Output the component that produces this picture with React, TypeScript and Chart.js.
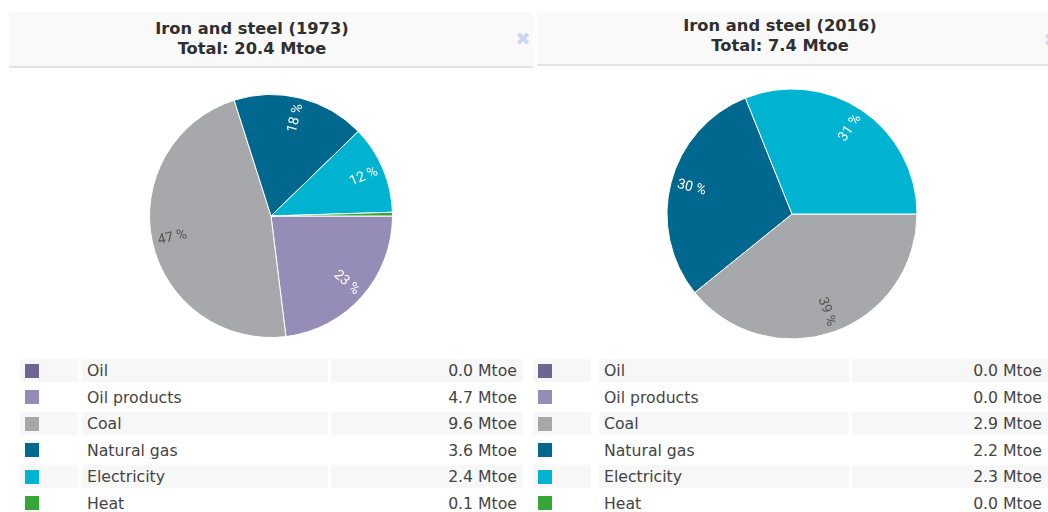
import React, { useEffect, useRef } from "react";
import { Chart, registerables } from "chart.js";

Chart.register(...registerables);

const categories = ["Oil", "Oil products", "Coal", "Natural gas", "Electricity", "Heat"];
const values1973 = [0.0, 4.7, 9.6, 3.6, 2.4, 0.1];
const values2016 = [0.0, 0.0, 2.9, 2.2, 2.3, 0.0];
const titles = ["Iron and steel (1973)", "Iron and steel (2016)"];
const totals = ["Total: 20.4 Mtoe", "Total: 7.4 Mtoe"];
const unit = "Mtoe";

const COLORS = ["#6e6593", "#958cb8", "#a7a8ab", "#00688f", "#00b4d1", "#35a637"];
const DARK_LABEL = "#555555";
const LIGHT_LABEL = "#ffffff";

function isLight(hex: string) {
  const r = parseInt(hex.slice(1, 3), 16);
  const g = parseInt(hex.slice(3, 5), 16);
  const b = parseInt(hex.slice(5, 7), 16);
  return 0.299 * r + 0.587 * g + 0.114 * b > 150;
}

const pctLabels = {
  id: "pctLabels",
  afterDatasetsDraw(chart: any) {
    const ctx = chart.ctx;
    const ds = chart.data.datasets[0];
    const data: number[] = ds.data;
    const total = data.reduce((a: number, b: number) => a + b, 0);
    const meta = chart.getDatasetMeta(0);
    ctx.save();
    ctx.font = "14px Roboto";
    ctx.textAlign = "center";
    ctx.textBaseline = "middle";
    meta.data.forEach((arc: any, i: number) => {
      const pct = Math.round((data[i] / total) * 100);
      if (pct < 1) return;
      const { x, y, startAngle, endAngle, outerRadius } = arc.getProps(
        ["x", "y", "startAngle", "endAngle", "outerRadius"],
        true
      );
      const mid = (startAngle + endAngle) / 2;
      const r = outerRadius * 0.83;
      const px = x + Math.cos(mid) * r;
      const py = y + Math.sin(mid) * r;
      let rot = mid;
      if (Math.cos(mid) < 0) rot += Math.PI;
      ctx.save();
      ctx.translate(px, py);
      ctx.rotate(rot);
      ctx.fillStyle = isLight(COLORS[i]) ? DARK_LABEL : LIGHT_LABEL;
      ctx.fillText(pct + " %", 0, 0);
      ctx.restore();
    });
    ctx.restore();
  },
};

type PieProps = { values: number[]; left: number; top: number; size: number; radius: number };

function Pie({ values, left, top, size, radius }: PieProps) {
  const ref = useRef<HTMLCanvasElement | null>(null);
  useEffect(() => {
    if (!ref.current) return;
    const chart = new Chart(ref.current, {
      type: "pie",
      data: {
        labels: categories,
        datasets: [
          {
            data: values,
            backgroundColor: COLORS,
            borderColor: "#ffffff",
            borderWidth: 1,
            radius: radius,
          },
        ],
      },
      options: {
        animation: false,
        responsive: false,
        rotation: 90,
        plugins: { legend: { display: false }, tooltip: { enabled: false }, title: { display: false } },
        layout: { padding: 0 },
      },
      plugins: [pctLabels],
    });
    return () => chart.destroy();
  }, []);
  return (
    <canvas
      ref={ref}
      width={size}
      height={size}
      style={{ position: "absolute", left, top, width: size, height: size }}
    />
  );
}

type PanelProps = {
  title: string;
  total: string;
  values: number[];
  headerLeft: number;
  headerTop: number;
  headerHeight: number;
  titleTop: number;
  pieCx: number;
  pieCy: number;
  pieR: number;
  tableLeft: number;
  cols: number[];
};

function Panel(p: PanelProps) {
  const size = 270;
  const rowTop = 359;
  const pitch = 26.5;
  const rowH = 23;
  const [swW, gap1, labW, gap2, valW] = p.cols;
  return (
    <>
      <div
        style={{
          position: "absolute",
          left: p.headerLeft,
          top: p.headerTop,
          width: 524,
          height: p.headerHeight,
          background: "#f9f9f9",
          borderBottom: "2px solid #e2e2e2",
        }}
      >
        <div
          style={{
            position: "absolute",
            left: 0,
            top: p.titleTop,
            width: 486,
            textAlign: "center",
            fontFamily: "'DejaVu Sans'",
            fontWeight: "bold",
            fontSize: 16.3,
            lineHeight: "20px",
            color: "#2f2f2f",
          }}
        >
          <div>{p.title}</div>
          <div>{p.total}</div>
        </div>
        <div
          style={{
            position: "absolute",
            left: 502,
            top: 16,
            width: 24,
            textAlign: "center",
            fontFamily: "'DejaVu Sans'",
            fontSize: 18,
            lineHeight: "22px",
            color: "#c9d7ee",
          }}
        >
          ✖
        </div>
      </div>
      <Pie
        values={p.values}
        left={p.pieCx - size / 2}
        top={p.pieCy - size / 2}
        size={size}
        radius={p.pieR}
      />
      {categories.map((c, i) => {
        const top = rowTop + i * pitch;
        const bg = i % 2 === 0 ? "#f7f7f7" : "#ffffff";
        const cell = {
          position: "absolute" as const,
          top,
          height: rowH,
          background: bg,
          fontFamily: "'DejaVu Sans'",
          fontSize: 15.7,
          lineHeight: rowH + "px",
          color: "#444444",
          whiteSpace: "nowrap" as const,
        };
        return (
          <React.Fragment key={c}>
            <div style={{ ...cell, left: p.tableLeft, width: swW }}>
              <div
                style={{
                  position: "absolute",
                  left: 5,
                  top: (rowH - 14) / 2,
                  width: 14,
                  height: 14,
                  background: COLORS[i],
                }}
              />
            </div>
            <div
              style={{
                ...cell,
                left: p.tableLeft + swW + gap1,
                width: labW - 5,
                paddingLeft: 5,
              }}
            >
              {c}
            </div>
            <div
              style={{
                ...cell,
                left: p.tableLeft + swW + gap1 + labW + gap2,
                width: valW - 6,
                paddingRight: 6,
                textAlign: "right",
              }}
            >
              {p.values[i].toFixed(1) + " " + unit}
            </div>
          </React.Fragment>
        );
      })}
    </>
  );
}

export default function App() {
  return (
    <div
      style={{
        position: "absolute",
        left: 0,
        top: 0,
        width: 1048,
        height: 512,
        overflow: "hidden",
        background: "#ffffff",
      }}
    >
      <Panel
        title={titles[0]}
        total={totals[0]}
        values={values1973}
        headerLeft={9}
        headerTop={12}
        headerHeight={54}
        titleTop={7}
        pieCx={271}
        pieCy={216}
        pieR={121.5}
        tableLeft={20}
        cols={[58, 4, 246, 3, 192]}
      />
      <Panel
        title={titles[1]}
        total={totals[1]}
        values={values2016}
        headerLeft={537}
        headerTop={13}
        headerHeight={51}
        titleTop={3}
        pieCx={792}
        pieCy={214}
        pieR={125}
        tableLeft={533}
        cols={[58, 8, 250, 3, 196]}
      />
    </div>
  );
}
